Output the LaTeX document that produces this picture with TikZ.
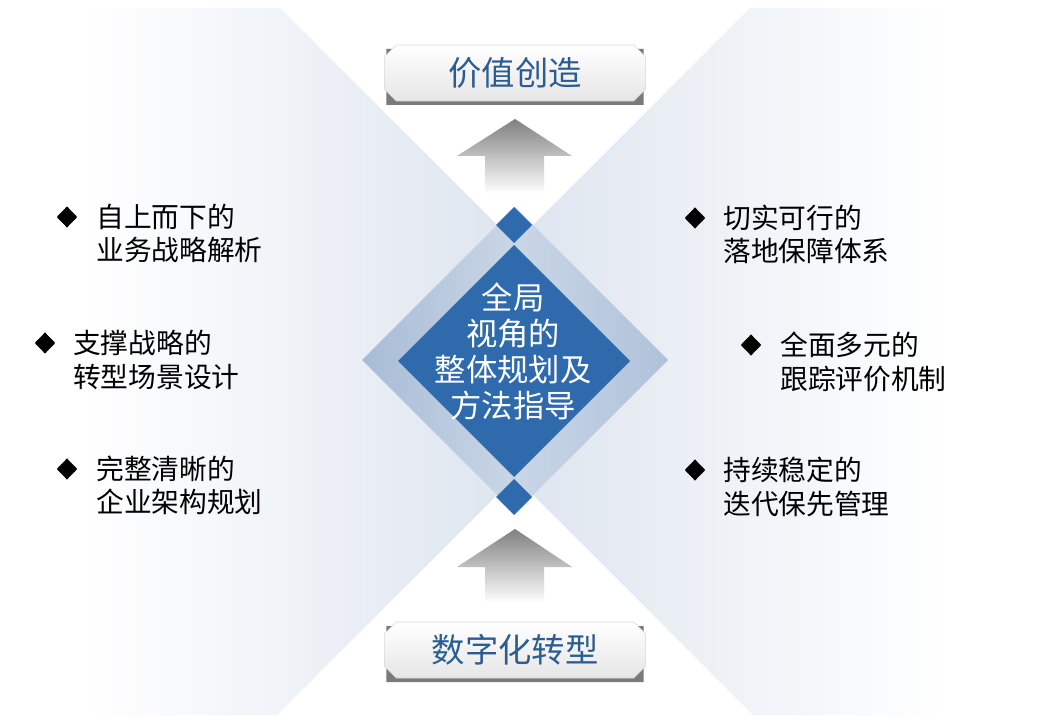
\documentclass[tikz,border=0pt]{standalone}
\usepackage{fontspec}
\setmainfont{Noto Sans CJK SC}
\usetikzlibrary{shapes.geometric,shapes.misc}
\definecolor{dblue}{HTML}{2F6AAC}
\definecolor{tblue}{HTML}{2C5D92}
\definecolor{panelc}{HTML}{DEE5EF}
\definecolor{bandl}{HTML}{A7BCD6}
\definecolor{bandm}{HTML}{CAD6E6}
\definecolor{bandr}{HTML}{AFC2DA}
\definecolor{boxbot}{HTML}{E6E6E6}
\definecolor{boxedge}{HTML}{D8D8D8}
\definecolor{shadowc}{HTML}{7A7A7A}
\definecolor{arrowtop}{HTML}{808080}
\tikzset{
  cbox/.style={chamfered rectangle, chamfered rectangle xsep=4.5pt,
    chamfered rectangle ysep=4.5pt, minimum width=196pt, minimum height=42pt,
    inner sep=0pt, top color=white, bottom color=boxbot, draw=boxedge,
    line width=0.4pt, text=tblue, font=\fontsize{25}{30}\selectfont},
  cshadow/.style={chamfered rectangle, chamfered rectangle xsep=4.5pt,
    chamfered rectangle ysep=4.5pt, minimum width=193pt, minimum height=42pt,
    inner sep=0pt, fill=shadowc, draw=none},
  bigarrow/.style={top color=arrowtop, bottom color=white, draw=none},
  bullet/.style={diamond, fill=black, inner sep=0pt, minimum width=15.5pt, minimum height=16pt},
  item/.style={anchor=west, align=left, inner sep=0pt, text=black,
    font=\fontsize{20.8}{25}\selectfont},
  centertext/.style={align=center, inner sep=0pt, text=white,
    font=\fontsize{23.5}{27}\selectfont},
}
\begin{document}
\begin{tikzpicture}[x=0.75pt,y=-0.75pt]
\useasboundingbox (0,0) rectangle (1047,720);
\fill[white] (0,0) rectangle (1047,720);
% background panels with the white X wedges
\shade[left color=white, right color=white, middle color=panelc]
  (85,8) -- (280,8) -- (515,243) -- (750,8) -- (945,8) -- (945,715)
  -- (753,715) -- (515,477) -- (277,715) -- (85,715) -- cycle;
% outer light diamond
\shade[left color=bandl, right color=bandr, middle color=bandm]
  (515,207) -- (668,360) -- (515,513) -- (362,360) -- cycle;
% dark diamond
\fill[dblue] (514,245) -- (630,361) -- (514,477) -- (398,361) -- cycle;
% small diamonds
\fill[dblue] (514,207) -- (532,225) -- (514,243) -- (496,225) -- cycle;
\fill[dblue] (514,479) -- (532,497) -- (514,515) -- (496,497) -- cycle;
% centre text
\node[centertext] (core) at (513,351) {全局\\视角的\\整体规划及\\方法指导};
% top box
\node[cshadow] (topshadow) at (515,77) {};
\node[cbox] (top) at (515,73) {价值创造};
% bottom box
\node[cshadow] (botshadow) at (515,654) {};
\node[cbox] (bottom) at (515,650) {数字化转型};
% block arrows
\shade[bigarrow] (515,119) -- (572,156) -- (544,156) -- (544,193)
  -- (485,193) -- (485,156) -- (457,156) -- cycle;
\shade[bigarrow] (515,529) -- (572,567) -- (544,567) -- (544,603)
  -- (485,603) -- (485,567) -- (457,567) -- cycle;
% left items
\node[bullet] (bl1) at (67,217) {};
\node[item] (tl1) at (96,233.5) {自上而下的\\业务战略解析};
\node[bullet] (bl2) at (45,343) {};
\node[item] (tl2) at (73,360) {支撑战略的\\转型场景设计};
\node[bullet] (bl3) at (67,469) {};
\node[item] (tl3) at (96,485.5) {完整清晰的\\企业架构规划};
% right items
\node[bullet] (br1) at (695,218) {};
\node[item] (tr1) at (723,234.5) {切实可行的\\落地保障体系};
\node[bullet] (br2) at (751,345) {};
\node[item] (tr2) at (780,362) {全面多元的\\跟踪评价机制};
\node[bullet] (br3) at (695,470) {};
\node[item] (tr3) at (723,487) {持续稳定的\\迭代保先管理};
\end{tikzpicture}
\end{document}
